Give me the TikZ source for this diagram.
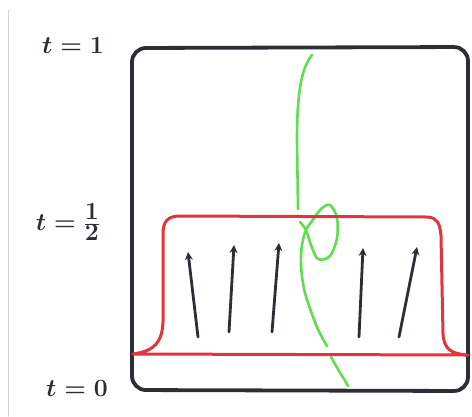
\documentclass[tikz,border=0pt]{standalone}
\usepackage{xcolor}
\definecolor{ink}{HTML}{2B2E34}
\definecolor{band}{HTML}{E0353F}
\definecolor{strand}{HTML}{62DC52}
\definecolor{margin}{HTML}{D2D2D2}
\usepackage{tikz}
\usetikzlibrary{arrows.meta}

\begin{document}
\begin{tikzpicture}[x=1bp,y=-1bp,>={Stealth[length=8bp,width=8bp]},line cap=round,line join=round,
  every node/.style={font=\fontsize{34}{38}\selectfont\boldmath,text=ink}]
\useasboundingbox (0,0) rectangle (472,416);
\draw[margin,line width=1bp] (8,10) -- (8,416);
% labels for the time levels
\node (t1) at (73,46) {$t=1$};
\node (thalf) at (68,222) {$t=\frac{1}{2}$};
\node (t0) at (77,388) {$t=0$};
% outer square
\draw[ink,line width=3.8bp,rounded corners=14bp] (132,48) -- (468,47) -- (468,391) -- (132,390) -- cycle;
% green strand
\draw[strand,line width=2.6bp] (312,55) .. controls (301,68) and (297,95) .. (297,140) -- (298,209);
\draw[strand,line width=2.6bp] plot[smooth,tension=0.55] coordinates {(300,222) (306,230) (311,245)
  (318,259) (330,256) (337,238) (337,218) (330,205) (321,209) (312,221) (306,230) (302,245) (301,265)
  (305,293) (317,327) (327,346)};
\draw[strand,line width=2.6bp] (331,357) .. controls (337,368) and (343,377) .. (348,386);
% red band
\draw[band,line width=3bp] (133,354) .. controls (155,351) and (162,342) .. (163,322) -- (163,234)
  .. controls (163,221) and (168,216) .. (180,216) -- (428,217) .. controls (437,218) and (440,223) .. (441,236)
  -- (443,334) .. controls (444,349) and (451,354) .. (468,355) -- cycle;
% flow arrows
\draw[->,ink,line width=2.8bp] (198,337) -- (188,252);
\draw[->,ink,line width=2.8bp] (229,332) -- (234,245);
\draw[->,ink,line width=2.8bp] (272,332) -- (279,243);
\draw[->,ink,line width=2.8bp] (359,337) -- (363,248);
\draw[->,ink,line width=2.8bp] (399,337) -- (417,247);
\end{tikzpicture}
\end{document}
